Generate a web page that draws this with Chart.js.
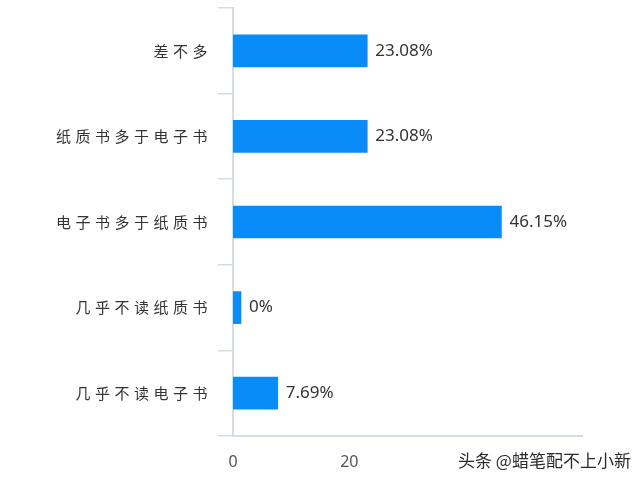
<!DOCTYPE html>
<html>
<head>
<meta charset="utf-8">
<script src="https://cdn.jsdelivr.net/npm/chart.js@4.4.0/dist/chart.umd.min.js"></script>
<style>
  html, body { margin: 0; padding: 0; background: #fff; }
  #wrap { width: 640px; height: 481px; position: relative; }
</style>
</head>
<body>
<div id="wrap"><canvas id="myChart"></canvas></div>
<script>
// categories (top to bottom) and percentages
const categories = ['差不多', '纸质书多于电子书', '电子书多于纸质书', '几乎不读纸质书', '几乎不读电子书'];
const percents = [23.08, 23.08, 46.15, 0, 7.69];
// x tick labels that can be seen (40 and 60 sit under the watermark)
const shownTicks = [0, 20];
const watermark = '头条 @蜡笔配不上小新';

// y labels drawn by hand so the wide letter spacing can be used
const yLabelPlugin = {
  id: 'yLabels',
  afterDraw(chart) {
    const ctx = chart.ctx;
    const y = chart.scales.y;
    ctx.save();
    ctx.font = '15px "Noto Sans CJK SC"';
    ctx.fillStyle = '#333';
    ctx.textAlign = 'right';
    ctx.textBaseline = 'middle';
    ctx.letterSpacing = '4.5px';
    y.ticks.forEach((t, i) => {
      ctx.fillText(y.getLabelForValue(t.value), 212, y.getPixelForTick(i));
    });
    ctx.restore();
  }
};

// value labels at the end of each bar
const valueLabelPlugin = {
  id: 'valueLabels',
  afterDatasetsDraw(chart) {
    const ctx = chart.ctx;
    const meta = chart.getDatasetMeta(0);
    ctx.save();
    ctx.font = '17px "Noto Sans"';
    ctx.fillStyle = '#333';
    ctx.textAlign = 'left';
    ctx.textBaseline = 'middle';
    meta.data.forEach((bar, i) => {
      ctx.fillText(percents[i] + '%', bar.x + 8, bar.y);
    });
    ctx.restore();
  }
};

const watermarkPlugin = {
  id: 'watermark',
  afterDraw(chart) {
    const ctx = chart.ctx;
    ctx.save();
    ctx.font = '17px "Noto Sans CJK SC"';
    ctx.textAlign = 'left';
    ctx.textBaseline = 'middle';
    ctx.lineWidth = 3;
    ctx.strokeStyle = '#fff';
    ctx.strokeText(watermark, 458, 461);
    ctx.fillStyle = '#2a2a2a';
    ctx.fillText(watermark, 458, 461);
    ctx.restore();
  }
};

const ctx = document.getElementById('myChart').getContext('2d');
const myChart = new Chart(ctx, {
  type: 'bar',
  data: {
    labels: categories,
    datasets: [{
      data: percents,
      backgroundColor: '#0a8cf8',
      barThickness: 32,
      minBarLength: 8
    }]
  },
  options: {
    indexAxis: 'y',
    responsive: true,
    maintainAspectRatio: false,
    animation: false,
    layout: { padding: { top: 8, right: 58, bottom: 0, left: 0 } },
    plugins: {
      legend: { display: false },
      tooltip: { enabled: false }
    },
    scales: {
      x: {
        min: 0,
        max: 60,
        grid: { display: false, drawTicks: false },
        border: { display: true, color: '#d6dce4', width: 2 },
        ticks: {
          stepSize: 20,
          padding: 17,
          color: '#555',
          font: { family: 'Noto Sans', size: 16 },
          callback: v => shownTicks.includes(v) ? String(v) : ''
        },
        afterFit: s => { s.height = 45; }
      },
      y: {
        offset: true,
        grid: { display: true, drawOnChartArea: false, drawTicks: true, tickLength: 15, color: '#d6dce4', lineWidth: 1.5 },
        border: { display: true, color: '#d6dce4', width: 2 },
        ticks: { display: false },
        afterFit: s => { s.width = 233; }
      }
    }
  },
  plugins: [yLabelPlugin, valueLabelPlugin, watermarkPlugin]
});
</script>
</body>
</html>
